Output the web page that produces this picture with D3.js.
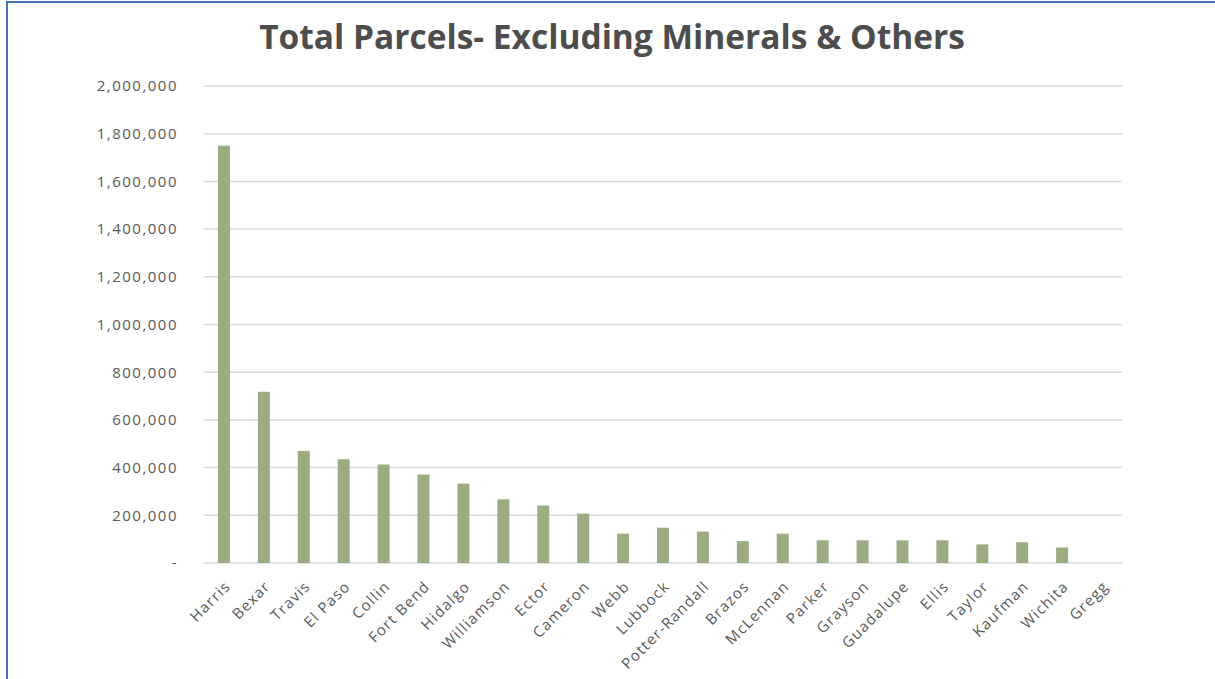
<!DOCTYPE html>
<html lang="en">
<head>
  <meta charset="UTF-8" />
  <title>Total Parcels- Excluding Minerals & Others</title>
  <script src="https://d3js.org/d3.v7.min.js"></script>
  <style>
    body {
      margin: 0;
      background: #fff;
      font-family: "Open Sans", sans-serif;
    }
    .frame {
      position: absolute;
      left: 6px;
      top: 1px;
      width: 1215px;
      height: 690px;
      border-left: 2px solid #4472c4;
      border-top: 2px solid #4472c4;
    }
    .grid line { stroke: #d9d9d9; stroke-width: 1.5; }
    svg text { font-family: "Open Sans", sans-serif; }
  </style>
</head>
<body>
  <div class="frame"></div>
  <svg id="chart" width="1215" height="679" style="position:absolute;left:0;top:0"></svg>
  <script>
    const counties = ["Harris", "Bexar", "Travis", "El Paso", "Collin", "Fort Bend", "Hidalgo",
      "Williamson", "Ector", "Cameron", "Webb", "Lubbock", "Potter-Randall", "Brazos", "McLennan",
      "Parker", "Grayson", "Guadalupe", "Ellis", "Taylor", "Kaufman", "Wichita", "Gregg"];
    const parcels = [1750000, 718000, 470000, 435000, 413000, 371000, 333000,
      267000, 241000, 207000, 123000, 148000, 132000, 92000, 123000,
      95000, 95000, 95000, 95000, 78000, 87000, 65000, 0];
    const yTicks = [0, 200000, 400000, 600000, 800000, 1000000, 1200000, 1400000, 1600000, 1800000, 2000000];

    const svg = d3.select("#chart");
    const margin = {top: 86, left: 204, right: 93, bottom: 116};
    const width = 1215, height = 679;

    const x = d3.scaleBand().domain(counties)
      .range([margin.left, width - margin.right]).paddingInner(0.7).paddingOuter(0.35);
    const y = d3.scaleLinear().domain([0, 2000000]).range([height - margin.bottom, margin.top]);

    // gridlines
    svg.append("g").attr("class", "grid")
      .selectAll("line").data(yTicks).join("line")
      .attr("x1", margin.left).attr("x2", width - margin.right)
      .attr("y1", d => y(d)).attr("y2", d => y(d));

    // y axis labels
    const fmt = d3.format(",");
    svg.append("g")
      .attr("transform", `translate(${margin.left - 26},0)`)
      .call(d3.axisLeft(y).tickValues(yTicks).tickSize(0).tickPadding(0)
        .tickFormat(d => d === 0 ? "-" : fmt(d)))
      .call(g => g.select(".domain").remove())
      .call(g => g.selectAll("text")
        .style("font-family", "'Open Sans', sans-serif")
        .style("font-size", "15px")
        .style("letter-spacing", "1.5px")
        .attr("fill", "#595959"));

    // bars
    svg.append("g").selectAll("rect").data(counties).join("rect")
      .attr("x", d => x(d))
      .attr("width", x.bandwidth())
      .attr("y", (d, i) => y(parcels[i]))
      .attr("height", (d, i) => y(0) - y(parcels[i]))
      .attr("fill", "#9bab82");

    // x axis labels
    svg.append("g").selectAll("text").data(counties).join("text")
      .attr("transform", d => `translate(${x(d) + x.bandwidth() / 2},${y(0) + 17}) rotate(-45)`)
      .attr("text-anchor", "end")
      .attr("dy", "0.7em")
      .style("font-size", "15px")
      .style("letter-spacing", "1.2px")
      .attr("fill", "#595959")
      .text(d => d);

    // title
    svg.append("text")
      .attr("x", 612).attr("y", 49)
      .attr("text-anchor", "middle")
      .style("font-size", "33.5px")
      .style("font-weight", "bold")
      .attr("fill", "#4d4d4d")
      .text("Total Parcels- Excluding Minerals & Others");
  </script>
</body>
</html>
